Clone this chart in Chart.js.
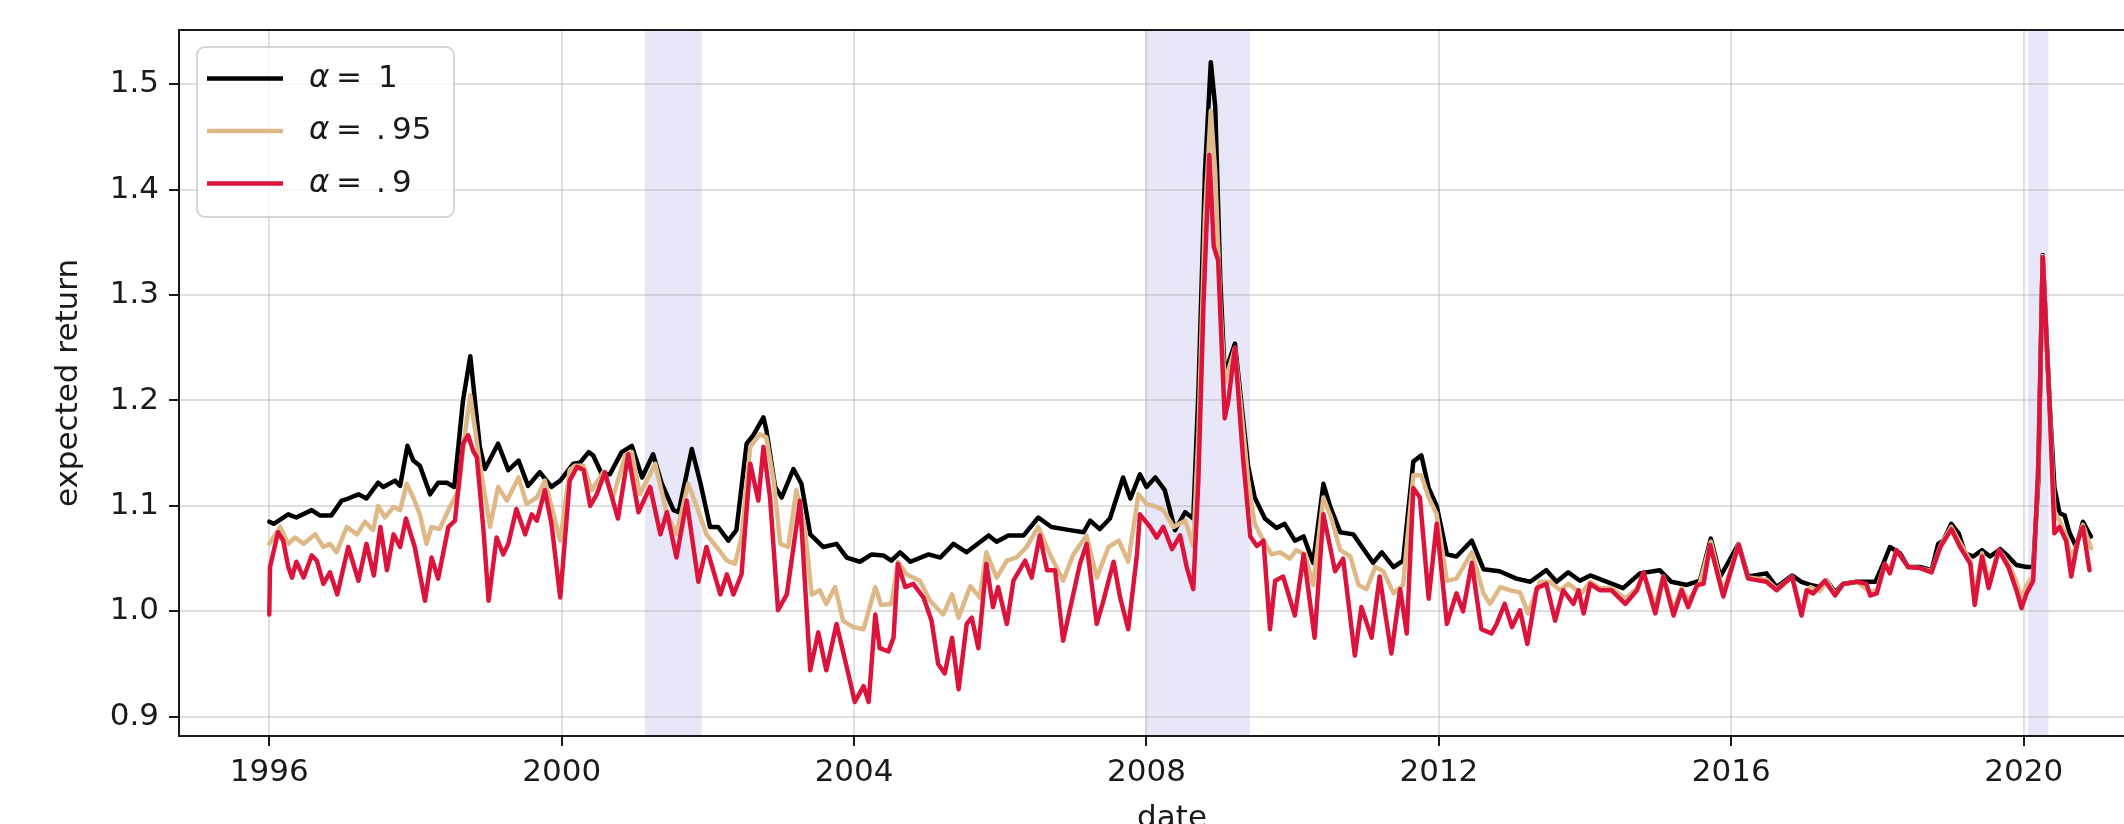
<!DOCTYPE html>
<html>
<head>
<meta charset="utf-8">
<script src="https://cdn.jsdelivr.net/npm/chart.js@4.4.1/dist/chart.umd.min.js"></script>
<style>
  html, body { margin: 0; padding: 0; background: #fff; overflow: hidden; }
  canvas { display: block; }
</style>
</head>
<body>
<canvas id="canvas" width="2200" height="860"></canvas>
<script>
// [year, expected return]
const alpha100 = [
  [1996.00,1.085],[1996.06,1.083],[1996.26,1.092],[1996.37,1.089],[1996.58,1.096],[1996.69,1.091],[1996.85,1.091],
  [1996.99,1.105],[1997.08,1.107],[1997.22,1.111],[1997.33,1.107],[1997.49,1.122],[1997.56,1.118],[1997.72,1.124],
  [1997.79,1.119],[1997.89,1.157],[1997.97,1.143],[1998.06,1.138],[1998.20,1.111],[1998.31,1.122],[1998.43,1.122],
  [1998.53,1.118],[1998.65,1.200],[1998.75,1.242],[1998.88,1.156],[1998.95,1.135],[1999.13,1.159],[1999.27,1.134],
  [1999.41,1.143],[1999.54,1.119],[1999.70,1.132],[1999.86,1.118],[1999.98,1.124],[2000.16,1.140],[2000.25,1.141],
  [2000.37,1.151],[2000.43,1.148],[2000.55,1.130],[2000.66,1.130],[2000.82,1.151],[2000.96,1.157],[2001.10,1.127],
  [2001.25,1.149],[2001.37,1.121],[2001.53,1.096],[2001.60,1.094],[2001.78,1.154],[2001.89,1.124],[2002.03,1.080],
  [2002.14,1.080],[2002.28,1.067],[2002.39,1.077],[2002.53,1.159],[2002.62,1.167],[2002.76,1.184],[2002.80,1.172],
  [2002.92,1.118],[2003.01,1.108],[2003.17,1.135],[2003.28,1.121],[2003.40,1.073],[2003.58,1.061],[2003.76,1.064],
  [2003.90,1.051],[2004.08,1.047],[2004.24,1.054],[2004.40,1.053],[2004.51,1.048],[2004.63,1.056],[2004.77,1.047],
  [2005.02,1.054],[2005.18,1.051],[2005.36,1.064],[2005.54,1.056],[2005.84,1.072],[2005.95,1.066],[2006.11,1.072],
  [2006.32,1.072],[2006.52,1.089],[2006.70,1.080],[2006.95,1.077],[2007.14,1.075],[2007.23,1.086],[2007.36,1.078],
  [2007.50,1.088],[2007.68,1.127],[2007.78,1.107],[2007.91,1.130],[2008.00,1.118],[2008.12,1.127],[2008.25,1.115],
  [2008.39,1.077],[2008.53,1.094],[2008.64,1.088],[2008.71,1.208],[2008.80,1.417],[2008.88,1.521],[2008.94,1.479],
  [2009.01,1.313],[2009.07,1.225],[2009.21,1.254],[2009.30,1.196],[2009.39,1.138],[2009.48,1.108],[2009.62,1.088],
  [2009.78,1.079],[2009.89,1.083],[2010.03,1.067],[2010.15,1.071],[2010.28,1.046],[2010.42,1.121],[2010.51,1.100],
  [2010.65,1.075],[2010.83,1.073],[2010.94,1.062],[2011.10,1.046],[2011.22,1.056],[2011.38,1.042],[2011.51,1.048],
  [2011.65,1.142],[2011.76,1.148],[2011.86,1.117],[2011.97,1.100],[2012.11,1.054],[2012.24,1.052],[2012.45,1.067],
  [2012.61,1.040],[2012.83,1.038],[2013.06,1.031],[2013.25,1.028],[2013.47,1.039],[2013.61,1.028],[2013.77,1.037],
  [2013.93,1.029],[2014.07,1.034],[2014.30,1.028],[2014.52,1.022],[2014.75,1.036],[2015.02,1.039],[2015.18,1.028],
  [2015.39,1.025],[2015.57,1.029],[2015.72,1.069],[2015.85,1.033],[2016.10,1.064],[2016.23,1.033],[2016.48,1.036],
  [2016.62,1.023],[2016.83,1.034],[2016.96,1.028],[2017.08,1.025],[2017.21,1.023],[2017.31,1.029],[2017.42,1.018],
  [2017.53,1.026],[2017.72,1.028],[2017.97,1.028],[2018.06,1.042],[2018.17,1.061],[2018.31,1.055],[2018.42,1.042],
  [2018.58,1.042],[2018.74,1.039],[2018.83,1.064],[2018.90,1.067],[2019.01,1.083],[2019.11,1.074],[2019.20,1.055],
  [2019.31,1.052],[2019.43,1.058],[2019.54,1.052],[2019.68,1.059],[2019.79,1.052],[2019.90,1.044],[2020.04,1.042],
  [2020.13,1.042],[2020.20,1.124],[2020.26,1.338],[2020.35,1.203],[2020.42,1.118],[2020.49,1.093],[2020.56,1.091],
  [2020.63,1.074],[2020.72,1.061],[2020.81,1.085],[2020.92,1.071]
];

const alpha95 = [
  [1996.00,1.064],[1996.15,1.080],[1996.26,1.064],[1996.35,1.070],[1996.47,1.064],[1996.63,1.073],[1996.74,1.061],
  [1996.83,1.064],[1996.92,1.056],[1997.06,1.080],[1997.20,1.073],[1997.31,1.085],[1997.42,1.077],[1997.49,1.100],
  [1997.58,1.089],[1997.70,1.099],[1997.79,1.096],[1997.88,1.121],[1997.97,1.108],[1998.06,1.092],[1998.15,1.064],
  [1998.22,1.080],[1998.33,1.078],[1998.47,1.099],[1998.59,1.115],[1998.68,1.170],[1998.75,1.205],[1998.88,1.140],
  [1999.02,1.080],[1999.13,1.118],[1999.25,1.105],[1999.41,1.127],[1999.52,1.102],[1999.66,1.108],[1999.77,1.124],
  [1999.98,1.067],[2000.11,1.134],[2000.18,1.138],[2000.30,1.138],[2000.41,1.115],[2000.57,1.132],[2000.70,1.108],
  [2000.87,1.148],[2000.96,1.151],[2001.07,1.111],[2001.28,1.140],[2001.44,1.092],[2001.57,1.073],[2001.73,1.121],
  [2001.85,1.099],[2001.98,1.073],[2002.12,1.061],[2002.26,1.048],[2002.37,1.045],[2002.46,1.070],[2002.58,1.156],
  [2002.71,1.168],[2002.80,1.165],[2002.90,1.124],[2002.99,1.064],[2003.10,1.061],[2003.21,1.115],[2003.33,1.077],
  [2003.42,1.016],[2003.53,1.020],[2003.62,1.007],[2003.74,1.023],[2003.85,0.991],[2003.99,0.985],[2004.13,0.983],
  [2004.29,1.023],[2004.37,1.006],[2004.51,1.007],[2004.60,1.047],[2004.72,1.035],[2004.90,1.029],[2005.04,1.010],
  [2005.22,0.997],[2005.34,1.016],[2005.43,0.994],[2005.59,1.024],[2005.72,1.013],[2005.81,1.056],[2005.95,1.032],
  [2006.09,1.048],[2006.22,1.051],[2006.36,1.061],[2006.52,1.080],[2006.68,1.054],[2006.86,1.029],[2007.00,1.054],
  [2007.18,1.072],[2007.32,1.032],[2007.48,1.061],[2007.62,1.067],[2007.75,1.047],[2007.89,1.111],[2008.00,1.102],
  [2008.14,1.099],[2008.23,1.096],[2008.37,1.080],[2008.53,1.086],[2008.64,1.062],[2008.71,1.167],[2008.80,1.375],
  [2008.88,1.475],[2008.94,1.417],[2009.01,1.292],[2009.07,1.217],[2009.21,1.250],[2009.30,1.188],[2009.39,1.125],
  [2009.48,1.083],[2009.60,1.067],[2009.71,1.054],[2009.83,1.056],[2009.96,1.050],[2010.05,1.058],[2010.17,1.054],
  [2010.28,1.025],[2010.42,1.108],[2010.53,1.088],[2010.65,1.058],[2010.79,1.052],[2010.90,1.025],[2011.01,1.021],
  [2011.13,1.042],[2011.24,1.038],[2011.38,1.017],[2011.51,1.025],[2011.65,1.129],[2011.76,1.129],[2011.86,1.108],
  [2011.97,1.092],[2012.11,1.029],[2012.24,1.031],[2012.45,1.056],[2012.61,1.017],[2012.70,1.007],[2012.84,1.023],
  [2012.97,1.020],[2013.11,1.018],[2013.22,0.998],[2013.38,1.028],[2013.52,1.028],[2013.66,1.020],[2013.77,1.026],
  [2013.95,1.017],[2014.07,1.028],[2014.20,1.022],[2014.36,1.022],[2014.55,1.012],[2014.71,1.022],[2014.80,1.036],
  [2014.96,1.005],[2015.07,1.033],[2015.21,1.002],[2015.32,1.022],[2015.41,1.010],[2015.57,1.027],[2015.72,1.066],
  [2015.89,1.018],[2016.10,1.064],[2016.23,1.032],[2016.48,1.030],[2016.62,1.021],[2016.83,1.033],[2016.96,1.000],
  [2017.08,1.023],[2017.21,1.019],[2017.31,1.029],[2017.42,1.016],[2017.53,1.026],[2017.72,1.028],[2017.90,1.018],
  [2017.99,1.020],[2018.10,1.045],[2018.17,1.040],[2018.26,1.058],[2018.42,1.042],[2018.58,1.041],[2018.74,1.038],
  [2018.86,1.062],[2019.01,1.080],[2019.13,1.065],[2019.27,1.048],[2019.33,1.012],[2019.43,1.055],[2019.52,1.028],
  [2019.66,1.058],[2019.79,1.046],[2019.90,1.028],[2019.97,1.012],[2020.04,1.025],[2020.13,1.034],[2020.20,1.132],
  [2020.26,1.337],[2020.35,1.203],[2020.42,1.095],[2020.49,1.086],[2020.58,1.072],[2020.65,1.050],[2020.74,1.066],
  [2020.81,1.082],[2020.92,1.060]
];

const alpha90 = [
  [1996.00,0.997],[1996.01,1.042],[1996.12,1.075],[1996.19,1.067],[1996.26,1.042],[1996.31,1.032],[1996.37,1.047],
  [1996.47,1.032],[1996.58,1.053],[1996.65,1.048],[1996.74,1.026],[1996.83,1.037],[1996.93,1.016],[1997.08,1.061],
  [1997.22,1.029],[1997.33,1.064],[1997.43,1.034],[1997.52,1.080],[1997.61,1.039],[1997.70,1.073],[1997.79,1.061],
  [1997.87,1.088],[1997.99,1.061],[1998.13,1.010],[1998.22,1.051],[1998.31,1.031],[1998.45,1.080],[1998.54,1.086],
  [1998.65,1.159],[1998.72,1.167],[1998.79,1.152],[1998.84,1.146],[1998.93,1.077],[1999.00,1.010],[1999.11,1.070],
  [1999.20,1.054],[1999.27,1.064],[1999.38,1.097],[1999.50,1.073],[1999.59,1.092],[1999.66,1.086],[1999.77,1.115],
  [1999.86,1.083],[1999.98,1.013],[2000.11,1.124],[2000.21,1.137],[2000.30,1.134],[2000.39,1.100],[2000.48,1.111],
  [2000.59,1.132],[2000.77,1.088],[2000.91,1.149],[2001.05,1.094],[2001.21,1.118],[2001.35,1.073],[2001.44,1.094],
  [2001.57,1.051],[2001.71,1.105],[2001.87,1.028],[2001.98,1.061],[2002.17,1.016],[2002.26,1.035],[2002.35,1.016],
  [2002.46,1.035],[2002.58,1.140],[2002.69,1.105],[2002.76,1.156],[2002.85,1.108],[2002.96,1.001],[2003.08,1.016],
  [2003.26,1.105],[2003.40,0.944],[2003.51,0.980],[2003.62,0.944],[2003.76,0.988],[2003.92,0.941],[2004.01,0.914],
  [2004.13,0.929],[2004.20,0.914],[2004.29,0.997],[2004.35,0.965],[2004.47,0.962],[2004.54,0.975],[2004.60,1.045],
  [2004.70,1.023],[2004.81,1.026],[2004.95,1.013],[2005.06,0.991],[2005.15,0.950],[2005.24,0.941],[2005.34,0.975],
  [2005.43,0.926],[2005.54,0.988],[2005.61,0.994],[2005.70,0.965],[2005.81,1.045],[2005.90,1.004],[2005.97,1.023],
  [2006.09,0.988],[2006.18,1.029],[2006.34,1.048],[2006.43,1.032],[2006.54,1.072],[2006.64,1.039],[2006.75,1.039],
  [2006.86,0.972],[2006.95,1.001],[2007.09,1.045],[2007.18,1.064],[2007.32,0.988],[2007.41,1.010],[2007.55,1.047],
  [2007.64,1.013],[2007.75,0.983],[2007.87,1.054],[2007.91,1.092],[2008.05,1.080],[2008.14,1.070],[2008.23,1.080],
  [2008.35,1.059],[2008.46,1.072],[2008.55,1.042],[2008.64,1.021],[2008.71,1.125],[2008.78,1.292],[2008.86,1.433],
  [2008.92,1.346],[2008.98,1.333],[2009.07,1.183],[2009.12,1.200],[2009.21,1.250],[2009.32,1.146],[2009.42,1.071],
  [2009.51,1.062],[2009.60,1.067],[2009.69,0.983],[2009.76,1.029],[2009.87,1.033],[2009.96,1.012],[2010.03,0.996],
  [2010.15,1.054],[2010.30,0.975],[2010.42,1.092],[2010.58,1.038],[2010.69,1.050],[2010.85,0.958],[2010.94,1.004],
  [2011.08,0.975],[2011.19,1.033],[2011.35,0.960],[2011.47,1.021],[2011.56,0.979],[2011.65,1.117],[2011.74,1.108],
  [2011.86,1.012],[2011.97,1.083],[2012.11,0.988],[2012.24,1.017],[2012.33,1.000],[2012.45,1.046],[2012.58,0.983],
  [2012.72,0.979],[2012.79,0.988],[2012.90,1.007],[2013.00,0.985],[2013.11,1.001],[2013.21,0.969],[2013.34,1.022],
  [2013.47,1.026],[2013.59,0.991],[2013.70,1.020],[2013.84,1.007],[2013.91,1.020],[2013.98,0.998],[2014.07,1.026],
  [2014.20,1.020],[2014.36,1.020],[2014.55,1.007],[2014.71,1.020],[2014.80,1.037],[2014.96,0.998],[2015.07,1.033],
  [2015.21,0.996],[2015.32,1.020],[2015.41,1.004],[2015.53,1.025],[2015.62,1.026],[2015.71,1.063],[2015.89,1.014],
  [2016.10,1.063],[2016.23,1.031],[2016.48,1.028],[2016.62,1.020],[2016.83,1.033],[2016.96,0.996],[2017.03,1.020],
  [2017.12,1.017],[2017.28,1.029],[2017.42,1.015],[2017.53,1.026],[2017.72,1.028],[2017.85,1.026],[2017.90,1.015],
  [2017.99,1.017],[2018.10,1.045],[2018.17,1.036],[2018.26,1.058],[2018.42,1.042],[2018.58,1.041],[2018.74,1.037],
  [2018.86,1.061],[2019.01,1.078],[2019.13,1.061],[2019.27,1.045],[2019.33,1.006],[2019.43,1.052],[2019.52,1.022],
  [2019.66,1.058],[2019.79,1.042],[2019.90,1.020],[2019.97,1.003],[2020.04,1.017],[2020.13,1.029],[2020.20,1.140],
  [2020.26,1.336],[2020.35,1.203],[2020.42,1.074],[2020.49,1.080],[2020.58,1.067],[2020.65,1.033],[2020.74,1.067],
  [2020.81,1.080],[2020.90,1.039]
];

// recession periods (shaded)
const recessions = [[2001.14, 2001.915], [2007.985, 2009.416], [2020.06, 2020.34]];

const seriesAlphas = ["1", ".95", ".9"];
const seriesColors = ["#000000", "#deb887", "#dc143c"];
const xTicks = [1996, 2000, 2004, 2008, 2012, 2016, 2020];
const yTicks = [0.9, 1.0, 1.1, 1.2, 1.3, 1.4, 1.5];

const FONT = "'DejaVu Sans', sans-serif";
const TEXT = "#1a1a1a";
const GRID = "rgba(176, 176, 176, 0.4)";

// shaded recession bands, drawn before the grid
const recessionBands = {
  id: "recessionBands",
  beforeDraw(chart) {
    const { ctx, chartArea: { top, bottom }, scales: { x } } = chart;
    ctx.save();
    ctx.fillStyle = "#e7e7f8";
    recessions.forEach(([a, b]) => {
      const x0 = x.getPixelForValue(a);
      const x1 = x.getPixelForValue(b);
      ctx.fillRect(x0, top, x1 - x0, bottom - top);
    });
    ctx.restore();
  },
};

// top and right spines (matplotlib box)
const topSpine = {
  id: "topSpine",
  afterDatasetsDraw(chart) {
    const { ctx, chartArea: { top, left, right, bottom } } = chart;
    ctx.save();
    ctx.strokeStyle = TEXT;
    ctx.lineWidth = 2;
    ctx.beginPath();
    ctx.moveTo(left - 1, top);
    ctx.lineTo(right, top);
    ctx.lineTo(right, bottom);
    ctx.stroke();
    ctx.restore();
  },
};

// legend box in the upper left corner
const boxLegend = {
  id: "boxLegend",
  afterDraw(chart) {
    const { ctx } = chart;
    ctx.save();
    const bx = 197, by = 47, bw = 257, bh = 170, r = 8;
    ctx.beginPath();
    ctx.moveTo(bx + r, by);
    ctx.arcTo(bx + bw, by, bx + bw, by + bh, r);
    ctx.arcTo(bx + bw, by + bh, bx, by + bh, r);
    ctx.arcTo(bx, by + bh, bx, by, r);
    ctx.arcTo(bx, by, bx + bw, by, r);
    ctx.closePath();
    ctx.fillStyle = "rgba(255,255,255,0.8)";
    ctx.fill();
    ctx.strokeStyle = "rgba(204,204,204,0.8)";
    ctx.lineWidth = 2;
    ctx.stroke();

    chart.data.datasets.forEach((ds, i) => {
      const y = 78.5 + i * 52.5;
      ctx.strokeStyle = ds.borderColor;
      ctx.lineWidth = 4.5;
      ctx.beginPath();
      ctx.moveTo(207, y);
      ctx.lineTo(283, y);
      ctx.stroke();

      ctx.fillStyle = TEXT;
      ctx.textBaseline = "middle";
      ctx.textAlign = "left";
      ctx.font = "italic 31px " + FONT;
      ctx.fillText("\u03b1", 309, y);
      ctx.font = "31px " + FONT;
      ctx.fillText("=", 336, y);
      const a = seriesAlphas[i];
      if (a.startsWith(".")) {
        ctx.fillText(".", 376, y);
        ctx.fillText(a.slice(1), 392, y);
      } else {
        ctx.fillText(a, 378, y);
      }
    });
    ctx.restore();
  },
};

const datasets = [alpha100, alpha95, alpha90].map((pts, i) => ({
  label: "\u03b1 = " + seriesAlphas[i],
  data: pts.map(([x, y]) => ({ x, y })),
  borderColor: seriesColors[i],
  backgroundColor: seriesColors[i],
  borderWidth: 4.5,
  borderJoinStyle: "round",
  borderCapStyle: "round",
  pointRadius: 0,
  tension: 0,
  fill: false,
  order: 3 - i,
}));

new Chart(document.getElementById("canvas").getContext("2d"), {
  type: "line",
  data: { datasets },
  options: {
    responsive: false,
    animation: false,
    devicePixelRatio: 1,
    layout: { padding: { left: 0, top: 30, right: 35, bottom: 0 } },
    plugins: { legend: { display: false }, tooltip: { enabled: false } },
    scales: {
      x: {
        type: "linear",
        min: 1994.765,
        max: 2021.933,
        afterFit(scale) { scale.height = 124; },
        afterBuildTicks(scale) { scale.ticks = xTicks.map((v) => ({ value: v })); },
        grid: { color: GRID, lineWidth: 2, tickColor: TEXT, tickLength: 10, tickWidth: 2 },
        border: { display: true, color: TEXT, width: 2 },
        ticks: {
          color: TEXT,
          font: { family: FONT, size: 31 },
          padding: 8,
          maxRotation: 0,
          callback: (v) => String(v),
        },
        title: {
          display: true,
          text: "date",
          color: TEXT,
          font: { family: FONT, size: 31 },
          padding: { top: 0, bottom: 22 },
        },
      },
      y: {
        min: 0.8817,
        max: 1.5515,
        afterFit(scale) { scale.width = 179; },
        afterBuildTicks(scale) { scale.ticks = yTicks.map((v) => ({ value: v })); },
        grid: { color: GRID, lineWidth: 2, tickColor: TEXT, tickLength: 10, tickWidth: 2 },
        border: { display: true, color: TEXT, width: 2 },
        ticks: {
          color: TEXT,
          font: { family: FONT, size: 31 },
          padding: 10,
          callback: (v) => v.toFixed(1),
        },
        title: {
          display: true,
          text: "expected return",
          color: TEXT,
          font: { family: FONT, size: 31 },
          padding: { top: 50, bottom: 0 },
        },
      },
    },
  },
  plugins: [recessionBands, topSpine, boxLegend],
});
</script>
</body>
</html>
